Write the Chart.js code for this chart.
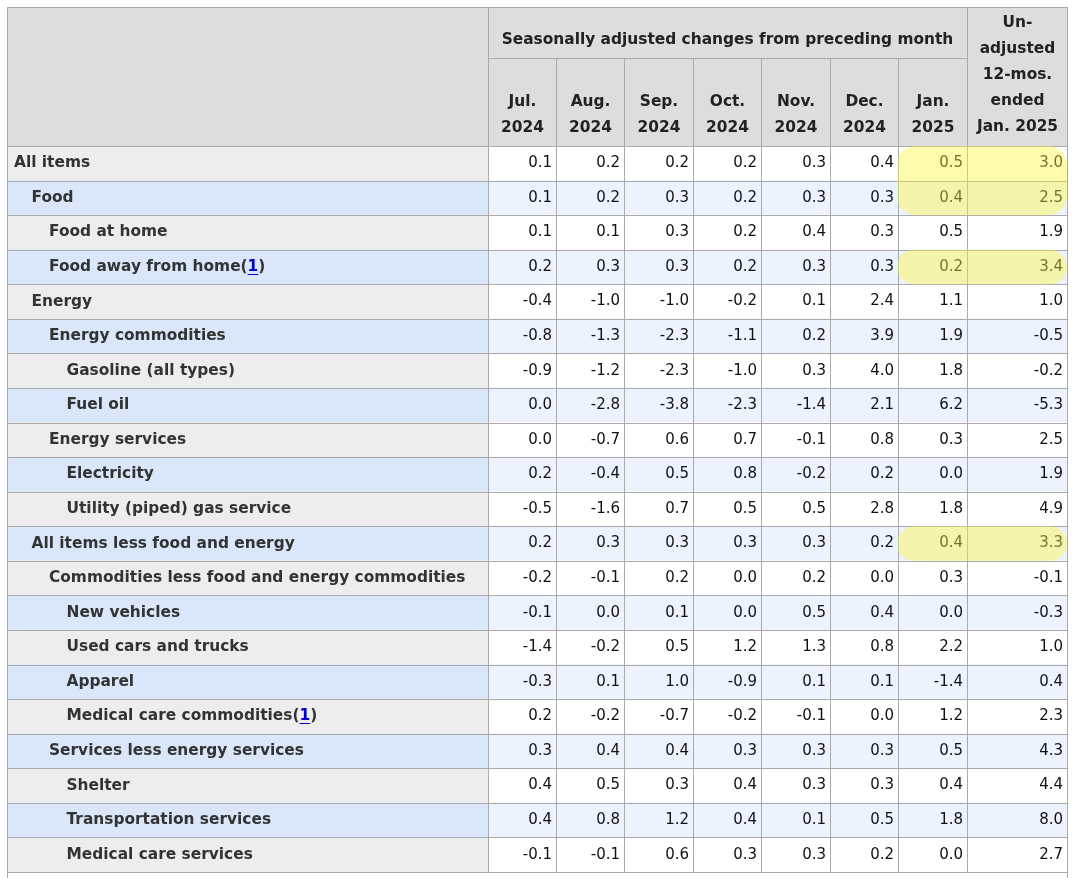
<!DOCTYPE html>
<html><head><meta charset="utf-8">
<script src="https://cdn.jsdelivr.net/npm/chart.js@4.4.1/dist/chart.umd.min.js"></script>
<style>html,body{margin:0;padding:0;background:#fff;overflow:hidden}#wrap{width:1072px;height:878px}canvas{display:block}</style>
</head><body><div id="wrap"><canvas id="c" width="1072" height="878" style="width:1072px;height:878px"></canvas></div>
<script>
// ---------- data ----------
const rowLabels = ["All items","Food","Food at home","Food away from home","Energy","Energy commodities","Gasoline (all types)","Fuel oil","Energy services","Electricity","Utility (piped) gas service","All items less food and energy","Commodities less food and energy commodities","New vehicles","Used cars and trucks","Apparel","Medical care commodities","Services less energy services","Shelter","Transportation services","Medical care services"];
const rowLevels = [0,1,2,2,1,2,3,3,2,3,3,1,2,3,3,3,3,2,3,3,3];
const rowFootnote = ["","","","1","","","","","","","","","","","","","1","","","","",""];
const groupHead = "Seasonally adjusted changes from preceding month";
const monthHeads = [["Jul.","2024"],["Aug.","2024"],["Sep.","2024"],["Oct.","2024"],["Nov.","2024"],["Dec.","2024"],["Jan.","2025"]];
const unadjHead = ["Un-","adjusted","12-mos.","ended","Jan. 2025"];
const jul2024 = [0.1,0.1,0.1,0.2,-0.4,-0.8,-0.9,0.0,0.0,0.2,-0.5,0.2,-0.2,-0.1,-1.4,-0.3,0.2,0.3,0.4,0.4,-0.1];
const aug2024 = [0.2,0.2,0.1,0.3,-1.0,-1.3,-1.2,-2.8,-0.7,-0.4,-1.6,0.3,-0.1,0.0,-0.2,0.1,-0.2,0.4,0.5,0.8,-0.1];
const sep2024 = [0.2,0.3,0.3,0.3,-1.0,-2.3,-2.3,-3.8,0.6,0.5,0.7,0.3,0.2,0.1,0.5,1.0,-0.7,0.4,0.3,1.2,0.6];
const oct2024 = [0.2,0.2,0.2,0.2,-0.2,-1.1,-1.0,-2.3,0.7,0.8,0.5,0.3,0.0,0.0,1.2,-0.9,-0.2,0.3,0.4,0.4,0.3];
const nov2024 = [0.3,0.3,0.4,0.3,0.1,0.2,0.3,-1.4,-0.1,-0.2,0.5,0.3,0.2,0.5,1.3,0.1,-0.1,0.3,0.3,0.1,0.3];
const dec2024 = [0.4,0.3,0.3,0.3,2.4,3.9,4.0,2.1,0.8,0.2,2.8,0.2,0.0,0.4,0.8,0.1,0.0,0.3,0.3,0.5,0.2];
const jan2025 = [0.5,0.4,0.5,0.2,1.1,1.9,1.8,6.2,0.3,0.0,1.8,0.4,0.3,0.0,2.2,-1.4,1.2,0.5,0.4,1.8,0.0];
const unadj12mo = [3.0,2.5,1.9,3.4,1.0,-0.5,-0.2,-5.3,2.5,1.9,4.9,3.3,-0.1,-0.3,1.0,0.4,2.3,4.3,4.4,8.0,2.7];
const valueColumns = [jul2024,aug2024,sep2024,oct2024,nov2024,dec2024,jan2025,unadj12mo];
const highlightRows = [[0,1],[3,3],[11,11]]; // highlighted in the last two columns

// ---------- layout / style ----------
const colEdges = [0,481,549,617,686,754,823,891,960,1060];
const TABLE_TOP = 7, GROUP_BOTTOM = 58;
const LINE = '#aaaaaa';
const HEAD_BG = '#dddddd';
const LABEL_BG = ['#ededed','#dae7fb'];
const VALUE_BG = ['#ffffff','#ecf3fe'];
const FONT = '"DejaVu Sans", Verdana, sans-serif';
const BOLD = 'bold 15.4px ' + FONT;
const REG = '15px ' + FONT;

const datasets = [];
for (let c = 0; c < colEdges.length - 1; c++) {
  datasets.push({
    data: rowLabels.map(() => [colEdges[c], colEdges[c+1]]),
    backgroundColor: rowLabels.map((_, i) => (c === 0 ? LABEL_BG : VALUE_BG)[i % 2]),
    borderWidth: 0, barPercentage: 1, categoryPercentage: 1, grouped: false
  });
}

const tablePlugin = {
  id: 'table',
  beforeDatasetsDraw(chart) {
    const ctx = chart.ctx, xs = chart.scales.x, area = chart.chartArea;
    const X = v => Math.round(xs.getPixelForValue(v));
    ctx.save();
    ctx.fillStyle = '#fff'; ctx.fillRect(0, 0, chart.width, chart.height);
    ctx.fillStyle = HEAD_BG;
    ctx.fillRect(X(0), TABLE_TOP, X(1060) - X(0), area.top - TABLE_TOP);
    ctx.restore();
  },
  afterDatasetsDraw(chart) {
    const ctx = chart.ctx, xs = chart.scales.x, area = chart.chartArea;
    const X = v => Math.round(xs.getPixelForValue(v));
    const meta0 = chart.getDatasetMeta(0);
    ctx.save();
    ctx.fillStyle = LINE;
    const left = X(0), right = X(1060);
    // header lines
    ctx.fillRect(left, TABLE_TOP, right - left + 1, 1);
    ctx.fillRect(X(colEdges[1]), GROUP_BOTTOM, X(colEdges[8]) - X(colEdges[1]), 1);
    ctx.fillRect(X(colEdges[1]), TABLE_TOP, 1, area.top - TABLE_TOP);
    ctx.fillRect(X(colEdges[8]), TABLE_TOP, 1, area.top - TABLE_TOP);
    for (let c = 2; c < 8; c++) ctx.fillRect(X(colEdges[c]), GROUP_BOTTOM, 1, area.top - GROUP_BOTTOM);
    // outer borders to bottom of canvas
    ctx.fillRect(left, TABLE_TOP, 1, chart.height - TABLE_TOP);
    ctx.fillRect(right, TABLE_TOP, 1, chart.height - TABLE_TOP);
    // body horizontal lines
    meta0.data.forEach(el => {
      const t = Math.round(el.y - el.height / 2), b = Math.round(el.y + el.height / 2);
      ctx.fillRect(left, t, right - left + 1, 1);
      ctx.fillRect(left, b, right - left + 1, 1);
    });
    // body vertical lines
    for (let c = 1; c < colEdges.length - 1; c++) ctx.fillRect(X(colEdges[c]), area.top, 1, area.bottom - area.top);

    // header text
    ctx.fillStyle = '#222';
    ctx.font = BOLD;
    ctx.textAlign = 'center'; ctx.textBaseline = 'middle';
    ctx.fillText(groupHead, (X(colEdges[1]) + X(colEdges[8])) / 2, 40);
    monthHeads.forEach((h, k) => {
      const cx = (X(colEdges[k+1]) + X(colEdges[k+2])) / 2 + 0.5;
      ctx.fillText(h[0], cx, 102);
      ctx.fillText(h[1], cx, 128);
    });
    unadjHead.forEach((t, k) => ctx.fillText(t, (X(colEdges[8]) + X(colEdges[9])) / 2 + 0.5, 23 + k * 26));

    // row labels
    ctx.textAlign = 'left';
    meta0.data.forEach((el, i) => {
      const x0 = Math.min(el.x, el.base) + 7 + rowLevels[i] * 17.5;
      const y = el.y;
      ctx.fillStyle = '#333';
      ctx.font = BOLD;
      ctx.fillText(rowLabels[i], x0, y);
      if (rowFootnote[i]) {
        let x = x0 + ctx.measureText(rowLabels[i]).width;
        ctx.fillText('(', x, y); x += ctx.measureText('(').width;
        ctx.fillStyle = '#0000cc';
        ctx.fillText(rowFootnote[i], x, y);
        const w = ctx.measureText(rowFootnote[i]).width;
        ctx.fillRect(x, Math.round(y + 7), w, 1);
        x += w;
        ctx.fillStyle = '#333';
        ctx.fillText(')', x, y);
      }
    });
    // values
    ctx.font = REG;
    ctx.textAlign = 'right';
    ctx.fillStyle = '#111';
    valueColumns.forEach((vals, k) => {
      const meta = chart.getDatasetMeta(k + 1);
      meta.data.forEach((el, i) => {
        const r = Math.max(el.x, el.base);
        ctx.fillText(vals[i].toFixed(1), r - 4, el.y);
      });
    });
    ctx.restore();
  },
  afterDraw(chart) {
    const ctx = chart.ctx;
    const metaA = chart.getDatasetMeta(7), metaB = chart.getDatasetMeta(8);
    ctx.save();
    ctx.fillStyle = 'rgba(255,245,60,0.42)';
    highlightRows.forEach(([a, b]) => {
      const ea = metaA.data[a], eb = metaA.data[b];
      const top = ea.y - ea.height / 2, bot = eb.y + eb.height / 2;
      const x0 = Math.min(ea.x, ea.base) - 1;
      const x1 = Math.max(metaB.data[a].x, metaB.data[a].base);
      const r = Math.min(19, (bot - top) / 2);
      ctx.beginPath();
      ctx.roundRect(x0, top, x1 - x0, bot - top, r);
      ctx.fill();
    });
    ctx.restore();
  }
};

new Chart(document.getElementById('c'), {
  type: 'bar',
  data: { labels: rowLabels, datasets },
  options: {
    indexAxis: 'y',
    responsive: false,
    devicePixelRatio: 1,
    animation: false,
    layout: { padding: { top: 146, left: 7, right: 5, bottom: 6 } },
    scales: {
      x: { type: 'linear', min: 0, max: 1060, display: false },
      y: { type: 'category', display: false, offset: true }
    },
    plugins: { legend: { display: false }, tooltip: { enabled: false } },
    events: []
  },
  plugins: [tablePlugin]
});
</script>
</body></html>
